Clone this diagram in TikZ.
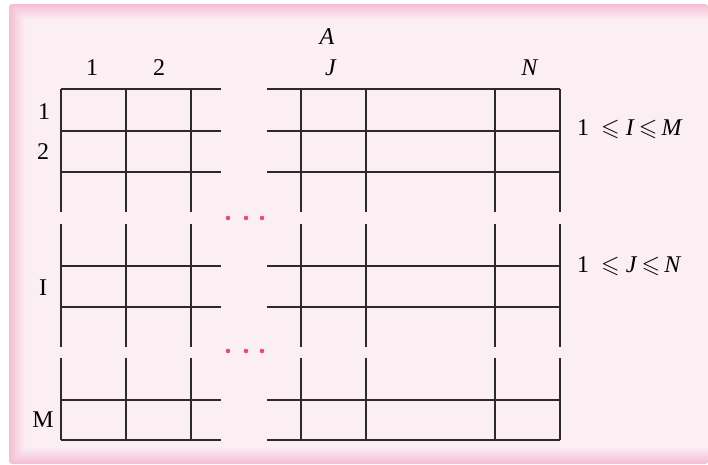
\documentclass[tikz,border=0pt]{standalone}
\usepackage{amssymb}
\usepackage{fontspec}
\setmainfont{Liberation Serif}
\usepackage{tikz}
\usetikzlibrary{positioning}
\definecolor{panelbg}{RGB}{252,239,244}
\definecolor{paneledge}{RGB}{245,190,212}
\definecolor{dotpink}{RGB}{232,72,139}
\definecolor{gridgray}{RGB}{45,42,44}

\begin{document}
\begin{tikzpicture}[
    x=1pt, y=-1pt,
    gridline/.style={
        draw=gridgray,
        line width=1.3pt
    },
    dotmark/.style={
        circle,
        fill=dotpink,
        inner sep=0pt,
        minimum size=4.6pt
    },
    lbl/.style={
        inner sep=0pt,
        font=\fontsize{24}{28}\selectfont
    }
]
\useasboundingbox (0,0) rectangle (708,464);

% Panel with soft pink edge
\foreach \i in {0,...,16}{
    \pgfmathtruncatemacro\pct{100*\i/16}
    \fill[panelbg!\pct!paneledge, rounded corners=3pt]
        (9+\i,4+\i) rectangle (708+0.5*\i,464-\i);
}

% Left part of the grid
\foreach \x in {61,126,191}{
    \draw[gridline] (\x,89) -- (\x,212);
    \draw[gridline] (\x,224) -- (\x,347);
    \draw[gridline] (\x,358) -- (\x,440);
}
\foreach \y in {89,131,172,266,307,400,440}
    \draw[gridline] (61,\y) -- (221,\y);

% Right part of the grid
\foreach \x in {301,366,495,560}{
    \draw[gridline] (\x,89) -- (\x,212);
    \draw[gridline] (\x,224) -- (\x,347);
    \draw[gridline] (\x,358) -- (\x,440);
}
\foreach \y in {89,131,172,266,307,400,440}
    \draw[gridline] (267,\y) -- (560,\y);

% Dots
\foreach \x in {228,246,262}{
    \node[dotmark] at (\x,218) {};
    \node[dotmark] at (\x,351) {};
}

% Column labels
\node[lbl] (name) at (327,37) {\textit{A}};
\node[lbl] (col1) at (92,68) {1};
\node[lbl] (col2) at (159,68) {2};
\node[lbl] (colJ) at (331,68) {\textit{J}};
\node[lbl] (colN) at (530,68) {\textit{N}};

% Row labels
\node[lbl] (row1) at (44,112) {1};
\node[lbl] (row2) at (43,152) {2};
\node[lbl] (rowI) at (43,288) {I};
\node[lbl] (rowM) at (43,420) {M};

% Ranges
\node[lbl, anchor=west] (rangeI) at (577,129) {1\ \ $\leqslant$ \textit{I}$\,\leqslant$\,\textit{M}};
\node[lbl, anchor=west] (rangeJ) at (577,266) {1\ \ $\leqslant$ \textit{J}$\,\leqslant$\,\textit{N}};

\end{tikzpicture}
\end{document}
